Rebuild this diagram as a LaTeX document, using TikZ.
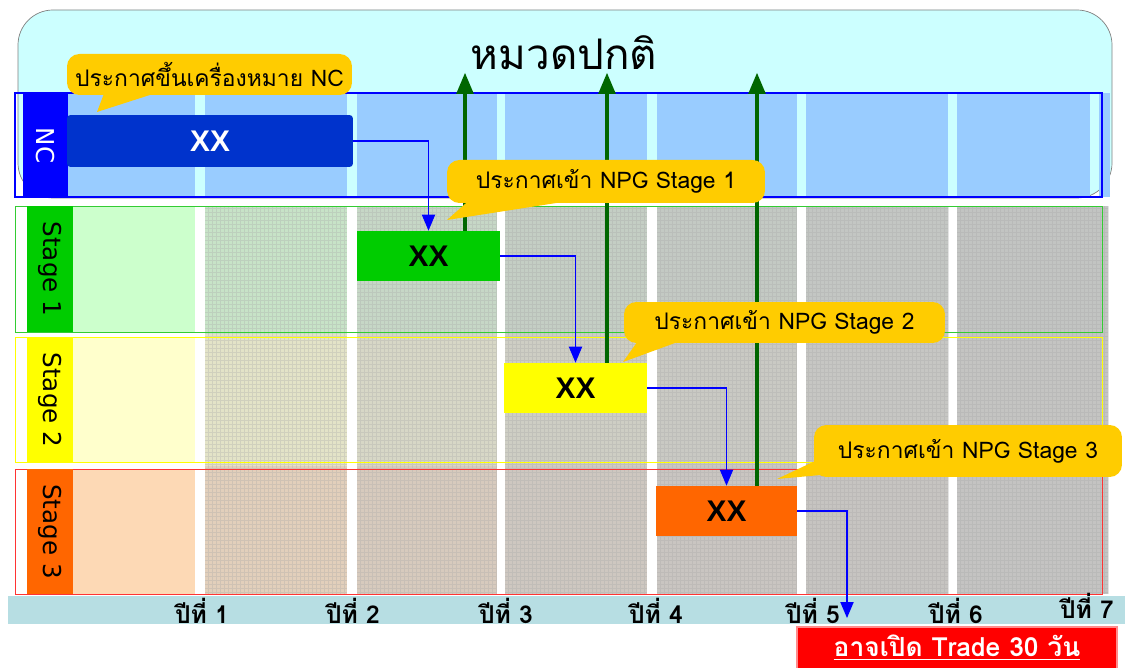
\documentclass[tikz,border=0pt]{standalone}
\usepackage{fontspec}
\setmainfont{DejaVu Sans}
\newfontfamily\thaifont[Script=Thai]{Loma}
\newfontfamily\boxfont{Liberation Sans}
\usetikzlibrary{arrows}

\definecolor{skyback}{HTML}{CCFFFF}
\definecolor{ncrow}{HTML}{99CCFF}
\definecolor{ncbox}{HTML}{0033CC}
\definecolor{ncside}{HTML}{0000FF}
\definecolor{sonepale}{HTML}{CCFFCC}
\definecolor{sone}{HTML}{00CC00}
\definecolor{sonerim}{HTML}{33CC33}
\definecolor{stwopale}{HTML}{FFFFCC}
\definecolor{stwo}{HTML}{FFFF00}
\definecolor{sthreepale}{HTML}{FDD9B5}
\definecolor{sthree}{HTML}{FF6600}
\definecolor{sthreerim}{HTML}{FF3333}
\definecolor{greybase}{HTML}{C2C2C2}
\definecolor{axisbar}{HTML}{B7DEE3}
\definecolor{bubblegold}{HTML}{FFCC00}
\definecolor{upgreen}{HTML}{006600}
\definecolor{flowblue}{HTML}{0000FF}
\newcommand{\fsz}[1]{\fontsize{#1}{#1}\selectfont}

\begin{document}
\begin{tikzpicture}[x=0.02cm, y=-0.02cm, >=triangle 45,
	bubble/.style={fill=bubblegold, rounded corners=7pt, inner sep=0pt, font=\thaifont\fsz{13}},
	xxbox/.style={inner sep=0pt, minimum width=2.86cm, minimum height=1cm, font=\boxfont\bfseries\fsz{17}},
	sidelabel/.style={rotate=-90, inner sep=0pt, minimum width=2.52cm, minimum height=0.92cm, font=\fsz{14}},
	year/.style={font=\thaifont\bfseries\fsz{14}},
	flow/.style={->, draw=flowblue, line width=1.1pt},
	rise/.style={->, draw=upgreen, line width=1.8pt},
	meshline/.style={gray!70, line width=0.2pt, opacity=0.3}]
	\useasboundingbox (0,0) rectangle (1125,668);

	% Background
	\draw[gray, fill=skyback, rounded corners=0.7cm] (18,10) rectangle (1112,198);
	\node[font=\thaifont\fsz{24}] (title) at (564,53) {หมวดปกติ};

	\foreach \a/\b in {68/195,205/347,357/497,505/647,657/797,806/948,957/1090,1099/1110}
		\fill[ncrow] (\a,93) rectangle (\b,197);

	\fill[sonepale] (73,206) rectangle (195,332);
	\fill[stwopale] (73,337) rectangle (195,463);
	\fill[sthreepale] (73,469) rectangle (195,594);
	\foreach \tint/\ya/\yb in {sonepale/206/334,stwopale/334/466,sthreepale/466/594}
		\foreach \a/\b/\p in {205/347/55,357/497/35,505/647/20,657/797/12,806/948/7,957/1108/4}
			\fill[\tint!\p!greybase] (\a,\ya) rectangle (\b,\yb);
	\foreach \a/\b in {205/347,357/497,505/647,657/797,806/948,957/1108}
		\draw[meshline, step=0.08cm] (\a,206) grid (\b,594);

	\draw[ncside, line width=0.8pt] (15,93) rectangle (1102,197);
	\draw[sonerim] (15,206) rectangle (1102,332);
	\draw[stwo] (15,337) rectangle (1102,462);
	\draw[sthreerim] (15,469) rectangle (1102,594);
	\fill[axisbar] (8,596) rectangle (1125,624);

	% Nodes {lnc, l1, l2, l3, nc, s1, s2, s3}
	\node[sidelabel, fill=ncside, text=white, minimum width=2.1cm, minimum height=0.9cm] (lnc) at (45.5,145.5) {NC};
	\node[sidelabel, fill=sone]   (l1) at (50,269)   {Stage 1};
	\node[sidelabel, fill=stwo]   (l2) at (50,400)   {Stage 2};
	\node[sidelabel, fill=sthree] (l3) at (50,531.5) {Stage 3};

	\node[xxbox, fill=ncbox, text=white, minimum width=5.72cm, minimum height=1.04cm, rounded corners=2pt] (nc) at (210,141) {XX};
	\node[xxbox, fill=sone]   (s1) at (428.5,256) {XX};
	\node[xxbox, fill=stwo]   (s2) at (575.5,388) {XX};
	\node[xxbox, fill=sthree, minimum width=2.82cm] (s3) at (726.5,511) {XX};

	\foreach \x/\n/\y in {202/1/611,353/2/611,506/3/611,656/4/611,813/5/611,956/6/611,1087/7/606}
		\node[year] (y\n) at (\x,\y) {ปีที่ \n};

	\node[fill=red, draw=red!45, line width=1.2pt, minimum width=6.4cm, minimum height=0.84cm, text=white,
		font=\thaifont\bfseries\fsz{15}] (trade) at (957,648) {\underline{อาจเปิด Trade 30 วัน}};

	% Paths
	\coordinate (top1) at (465,73);
	\coordinate (top2) at (607,73);
	\coordinate (top3) at (757,73);
	\coordinate (drop) at (847,618);
	\draw[rise] (s1.north -| top1) -- (top1);
	\draw[rise] (s2.north -| top2) -- (top2);
	\draw[rise] (s3.north -| top3) -- (top3);

	\draw[flow] (nc.east) -| (s1.north);
	\draw[flow] (s1.east) -| (s2.north);
	\draw[flow] (s2.east) -| (s3.north);
	\draw[flow] (s3.east) -| (drop);

	% Callouts
	\coordinate (tip0) at (97,112);
	\coordinate (tip1) at (447,220);
	\coordinate (tip2) at (623,362);
	\coordinate (tip3) at (777,479);
	\node[bubble, minimum width=5.7cm, minimum height=0.82cm] (c0) at (209.5,74.5) {ประกาศขึ้นเครื่องหมาย NC};
	\fill[bubblegold] ([xshift=0.76cm, yshift=2pt]c0.south west) -- (tip0) -- ([xshift=1.86cm, yshift=2pt]c0.south west) -- cycle;
	\node[bubble, minimum width=6.36cm, minimum height=0.86cm] (c1) at (606,181.5) {ประกาศเข้า NPG Stage 1};
	\fill[bubblegold] ([xshift=0.46cm, yshift=2pt]c1.south west) -- (tip1) -- ([xshift=2.6cm, yshift=2pt]c1.south west) -- cycle;
	\node[bubble, minimum width=6.42cm, minimum height=0.82cm] (c2) at (784.5,322.5) {ประกาศเข้า NPG Stage 2};
	\fill[bubblegold] ([xshift=0.3cm, yshift=2pt]c2.south west) -- (tip2) -- ([xshift=1.2cm, yshift=2pt]c2.south west) -- cycle;
	\node[bubble, minimum width=6.16cm, minimum height=1.04cm] (c3) at (968,451) {ประกาศเข้า NPG Stage 3};
	\fill[bubblegold] ([xshift=2pt, yshift=-0.18cm]c3.west) -- (tip3) -- ([xshift=0.4cm, yshift=2pt]c3.south west) -- cycle;
\end{tikzpicture}
\end{document}
